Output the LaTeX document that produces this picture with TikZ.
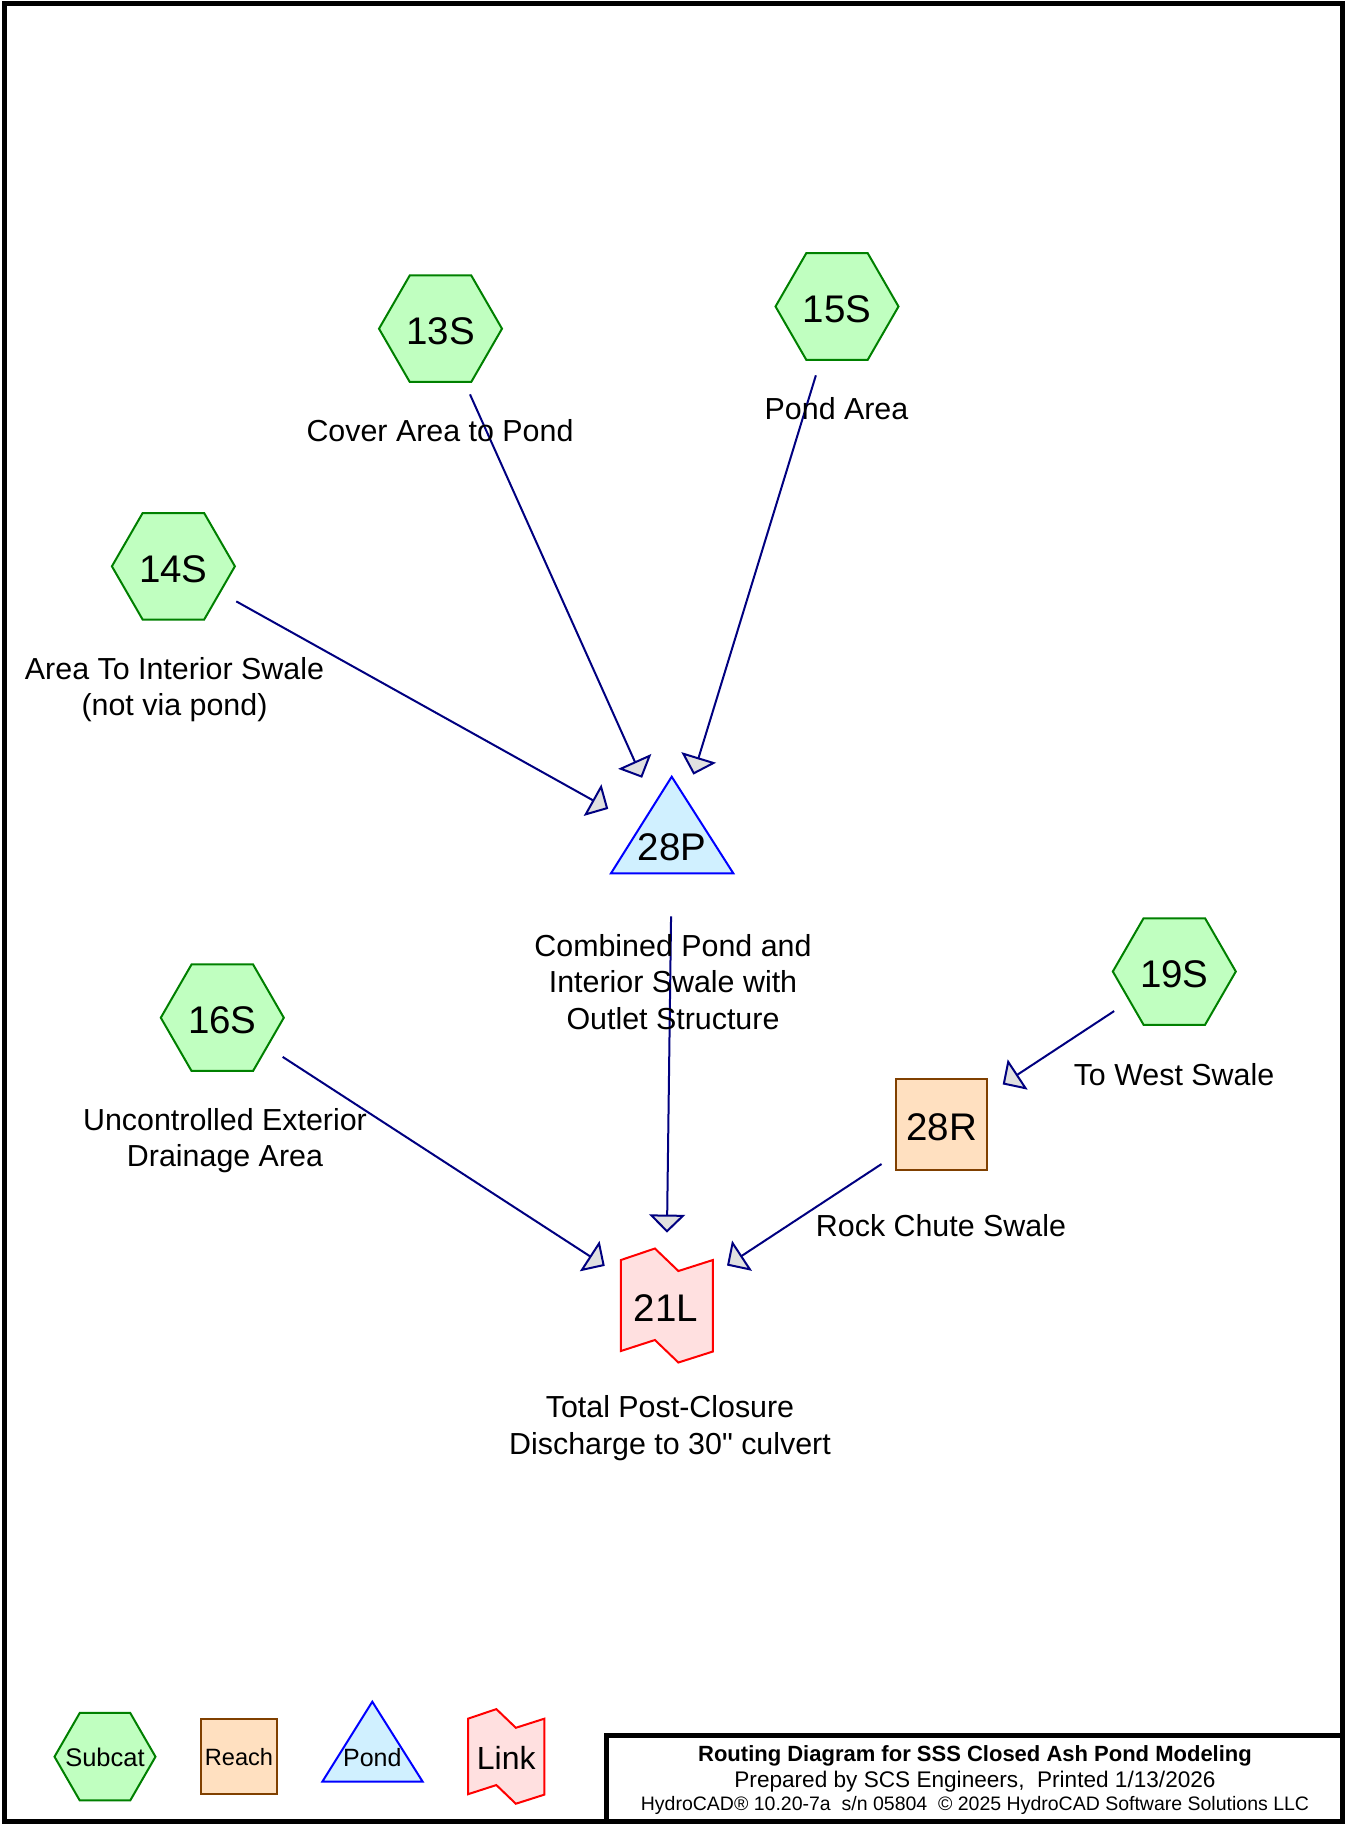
\documentclass[tikz,border=0pt]{standalone}
\usepackage{fontspec}
\setmainfont{Liberation Sans}[Ligatures=TeXOff]
\usetikzlibrary{arrows.meta}
\definecolor{subfill}{HTML}{C0FFC0}
\definecolor{subline}{HTML}{008000}
\definecolor{reachfill}{HTML}{FFE0C0}
\definecolor{reachline}{HTML}{804000}
\definecolor{pondfill}{HTML}{D0F0FF}
\definecolor{pondline}{HTML}{0000FF}
\definecolor{linkfill}{HTML}{FFE0E0}
\definecolor{linkline}{HTML}{FF0000}
\definecolor{flow}{HTML}{000080}
\definecolor{tipfill}{HTML}{E0E0E0}
\newcommand\HexAt[2]{\draw[subcat,shift={(#1)}] (180:#2) -- (120:#2) -- (60:#2) -- (0:#2) -- (-60:#2) -- (-120:#2) -- cycle;}
\newcommand\LinkAt[2]{\draw[linkshape,shift={(#1)},scale=#2] (-46,-45.5) -- (-12,-57) -- (11.5,-34.5) -- (46,-45.5) -- (46,46) -- (11.5,57) -- (-12,34.5) -- (-46,45.5) -- cycle;}
\begin{document}
\begin{tikzpicture}[x=1pt,y=-1pt,
  subcat/.style={fill=subfill,draw=subline,line width=2pt},
  reachshape/.style={fill=reachfill,draw=reachline,line width=2pt},
  pondshape/.style={fill=pondfill,draw=pondline,line width=2pt},
  linkshape/.style={fill=linkfill,draw=linkline,line width=2pt},
  idtext/.style={inner sep=0pt,text height=32.2pt,text depth=0pt,font=\fontsize{38.5}{44}\selectfont},
  lbl/.style={inner sep=0pt,align=center,anchor=north,font=\fontsize{30.4}{36.7}\selectfont},
  legtext/.style={inner sep=0pt},
  titletext/.style={inner sep=0pt,anchor=base,font=\fontsize{22.6}{26}\selectfont},
  flowline/.style={draw=flow,line width=2pt,shorten <=72pt,shorten >=73pt,
    -{Triangle[length=18pt,width=36pt,fill=tipfill]}},
  framestyle/.style={line width=5pt},
]
\useasboundingbox (0,0) rectangle (1345,1825);
% frame and title block
\draw[framestyle] (4,4) rectangle (1342.5,1821);
\draw[framestyle] (606,1735) rectangle (1342.5,1821);
\node[titletext,font=\bfseries\fontsize{22}{26}\selectfont] (t1) at (975,1761) {Routing Diagram for SSS Closed Ash Pond Modeling};
\node[titletext] (t2) at (975,1787) {Prepared by SCS Engineers,\ \ Printed 1/13/2026};
\node[titletext,font=\fontsize{19.5}{23}\selectfont] (t3) at (975,1810.5) {HydroCAD® 10.20-7a\ \ s/n 05804\ \ © 2025 HydroCAD Software Solutions LLC};
% legend
\HexAt{105,1756.7}{50.5}
\node[legtext,font=\fontsize{25.5}{30}\selectfont] (legsub) at (105,1757.5) {Subcat};
\draw[reachshape] (201,1719) rectangle (277,1794.3);
\node[legtext,font=\fontsize{23.6}{28}\selectfont] (legreach) at (239,1757) {Reach};
\draw[pondshape] (372.3,1701.7) -- (422.7,1781.7) -- (322.3,1781.7) -- cycle;
\node[legtext,font=\fontsize{25}{30}\selectfont] (legpond) at (372.3,1757.8) {Pond};
\LinkAt{506.3,1756.4}{0.83}
\node[legtext,font=\fontsize{32}{38}\selectfont] (leglink) at (506.3,1757.8) {Link};
% shapes
\HexAt{440.5,328.7}{61.5}
\HexAt{837,306.5}{61.5}
\HexAt{173.4,566.3}{61.5}
\HexAt{222.3,1017.7}{61.5}
\HexAt{1174.3,971.5}{61.5}
\draw[pondshape] (671.7,776.7) -- (733.3,873.3) -- (611,873.3) -- cycle;
\draw[reachshape] (896,1079) rectangle (987.3,1170);
\LinkAt{666.9,1305.5}{1}
% node ids
\node[idtext] (13S) at (440.5,328.7) {13S};
\node[idtext] (15S) at (837,306.5) {15S};
\node[idtext] (14S) at (173.4,566.3) {14S};
\node[idtext] (16S) at (222.3,1017.7) {16S};
\node[idtext] (19S) at (1174.3,971.5) {19S};
\node[idtext] (28P) at (672,844.4) {28P};
\node[idtext] (28R) at (941.7,1124.5) {28R};
\node[idtext] (21L) at (666,1305.6) {21L};
% connectors
\draw[flowline] (13S.center) -- (28P.center);
\draw[flowline] (15S.center) -- (28P.center);
\draw[flowline] (14S.center) -- (28P.center);
\draw[flowline] (28P.center) -- (21L.center);
\draw[flowline] (16S.center) -- (21L.center);
\draw[flowline] (28R.center) -- (21L.center);
\draw[flowline] (19S.center) -- (28R.center);
% labels
\node[lbl] (l13) at (440,419.1) {Cover Area to Pond};
\node[lbl] (l15) at (836.5,397.1) {Pond Area};
\node[lbl] (l14) at (174.5,656.8) {Area To Interior Swale\\(not via pond)};
\node[lbl] (l28p) at (673,933.8) {Combined Pond and\\Interior Swale with\\Outlet Structure};
\node[lbl] (l16) at (225,1107.8) {Uncontrolled Exterior\\Drainage Area};
\node[lbl] (l19) at (1174,1062.8) {To West Swale};
\node[lbl] (l28r) at (941,1213.8) {Rock Chute Swale};
\node[lbl] (l21) at (670,1395.5) {Total Post-Closure\\Discharge to 30" culvert};
\end{tikzpicture}
\end{document}
